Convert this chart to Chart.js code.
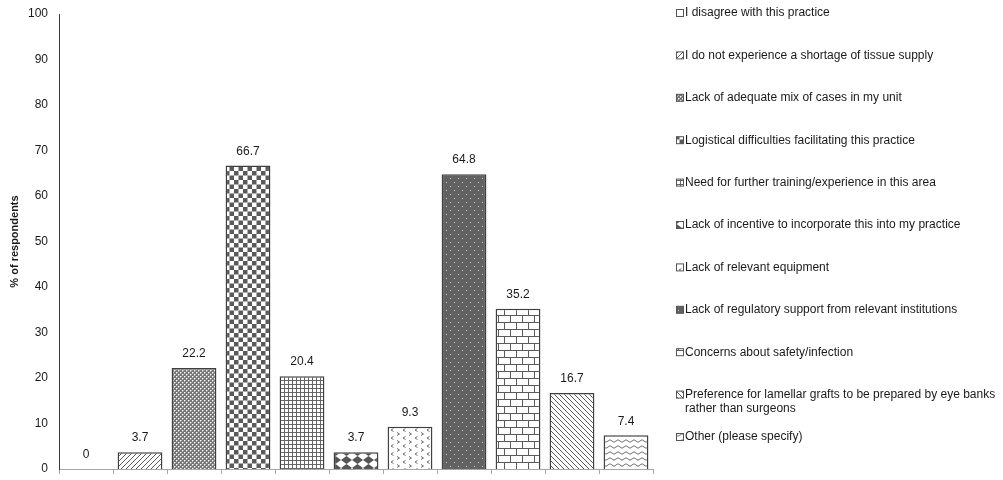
<!DOCTYPE html>
<html>
<head>
<meta charset="utf-8">
<script src="https://cdn.jsdelivr.net/npm/chart.js@4.4.0/dist/chart.umd.min.js"></script>
<style>
  html, body { margin: 0; padding: 0; background: #ffffff; }
  #wrap { width: 1003px; height: 480px; position: relative; }
</style>
</head>
<body>
<div id="wrap"><canvas id="c"></canvas></div>
<script>
// ---- data ----
const categories = [
  "I disagree with this practice",
  "I do not experience a shortage of tissue supply",
  "Lack of adequate mix of cases in my unit",
  "Logistical difficulties facilitating this practice",
  "Need for further training/experience in this area",
  "Lack of incentive to incorporate this into my practice",
  "Lack of relevant equipment",
  "Lack of regulatory support from relevant institutions",
  "Concerns about safety/infection",
  ["Preference for lamellar grafts to be prepared by eye banks", "rather than surgeons"],
  "Other (please specify)"
];
const values = [0, 3.7, 22.2, 66.7, 20.4, 3.7, 9.3, 64.8, 35.2, 16.7, 7.4];
const yAxisTitle = "% of respondents";
const yMin = 0, yMax = 100, yStep = 10;

// ---- patterns ----
function pat(w, h, bg, draw) {
  const c = document.createElement('canvas');
  c.width = w; c.height = h;
  const x = c.getContext('2d');
  x.fillStyle = bg; x.fillRect(0, 0, w, h);
  if (draw) draw(x, w, h);
  return x.createPattern(c, 'repeat');
}
const G = '#5a5a5a';
const patterns = [
  pat(4, 4, '#ffffff'),
  pat(5, 5, '#ffffff', (x) => { x.strokeStyle = G; x.lineWidth = 1;
    x.beginPath(); x.moveTo(-1, 6); x.lineTo(6, -1); x.moveTo(-1, 1); x.lineTo(1, -1); x.moveTo(4, 6); x.lineTo(6, 4); x.stroke(); }),
  pat(4, 4, '#777777', (x) => { x.fillStyle = '#ffffff'; x.fillRect(0, 0, 1, 1); x.fillRect(2, 2, 1, 1);
    x.fillStyle = '#b4b4b4'; x.fillRect(1, 0, 1, 1); x.fillRect(0, 1, 1, 1); x.fillRect(3, 2, 1, 1); x.fillRect(2, 3, 1, 1); }),
  pat(9, 9, '#ffffff', (x) => { x.fillStyle = G; x.fillRect(0, 0, 4.5, 4.5); x.fillRect(4.5, 4.5, 4.5, 4.5); }),
  pat(4, 4, '#ffffff', (x) => { x.fillStyle = '#666666'; x.fillRect(0, 0, 4, 1); x.fillRect(0, 0, 1, 4); }),
  pat(11, 8, '#ffffff', (x) => { x.fillStyle = '#555555'; x.beginPath();
    x.moveTo(5.5, 0); x.lineTo(11, 4); x.lineTo(5.5, 8); x.lineTo(0, 4); x.closePath(); x.fill(); }),
  pat(12, 8, '#ffffff', (x) => { x.strokeStyle = '#6e6e6e'; x.lineWidth = 1; x.beginPath();
    x.moveTo(1, 0.5); x.lineTo(3.5, 2); x.lineTo(1, 3.5);
    x.moveTo(9.5, 4.5); x.lineTo(7, 6); x.lineTo(9.5, 7.5); x.stroke(); }),
  pat(8, 8, '#626262', (x) => { x.fillStyle = '#c8c8c8'; x.fillRect(2, 2, 1, 1); x.fillRect(6, 6, 1, 1); }),
  pat(12, 14, '#ffffff', (x) => { x.fillStyle = G; x.fillRect(0, 0, 12, 1); x.fillRect(0, 7, 12, 1);
    x.fillRect(0, 0, 1, 7); x.fillRect(6, 7, 1, 7); }),
  pat(5, 5, '#ffffff', (x) => { x.strokeStyle = G; x.lineWidth = 1;
    x.beginPath(); x.moveTo(-1, -1); x.lineTo(6, 6); x.moveTo(4, -1); x.lineTo(6, 1); x.moveTo(-1, 4); x.lineTo(1, 6); x.stroke(); }),
  pat(8, 6, '#ffffff', (x) => { x.strokeStyle = '#707070'; x.lineWidth = 1; x.beginPath();
    x.moveTo(0, 3); x.quadraticCurveTo(2, 0.5, 4, 3); x.quadraticCurveTo(6, 5.5, 8, 3); x.stroke(); })
];

const FONT = "'Liberation Sans', Arial, sans-serif";

const valueLabels = {
  id: 'valueLabels',
  afterDatasetsDraw(chart) {
    const ctx = chart.ctx;
    const meta = chart.getDatasetMeta(0);
    ctx.save();
    ctx.font = '12px ' + FONT;
    ctx.fillStyle = '#1a1a1a';
    ctx.textAlign = 'center';
    ctx.textBaseline = 'middle';
    meta.data.forEach((bar, i) => {
      ctx.fillText(String(values[i]), bar.x, bar.y - 14);
    });
    ctx.restore();
  }
};

const sideLegend = {
  id: 'sideLegend',
  afterDraw(chart) {
    const ctx = chart.ctx;
    const iconX = 676, textX = 685, y0 = 13, step = 42.4, lineH = 14;
    ctx.save();
    ctx.font = '12px ' + FONT;
    ctx.textAlign = 'left';
    ctx.textBaseline = 'middle';
    categories.forEach((lab, i) => {
      const y = y0 + i * step;
      ctx.fillStyle = patterns[i];
      ctx.fillRect(iconX, y - 3.5, 7, 7);
      ctx.strokeStyle = '#555555';
      ctx.lineWidth = 1;
      ctx.strokeRect(iconX + 0.5, y - 3.5, 7, 7);
      ctx.fillStyle = '#1a1a1a';
      const lines = Array.isArray(lab) ? lab : [lab];
      lines.forEach((t, k) => ctx.fillText(t, textX, y + k * lineH));
    });
    ctx.restore();
  }
};

new Chart(document.getElementById('c'), {
  type: 'bar',
  data: {
    labels: categories,
    datasets: [{
      data: values,
      backgroundColor: patterns,
      borderColor: '#404040',
      borderWidth: 1.5,
      barPercentage: 0.83,
      categoryPercentage: 1.0
    }]
  },
  options: {
    responsive: true,
    maintainAspectRatio: false,
    animation: false,
    layout: { padding: { left: 0, right: 350, top: 14, bottom: 0 } },
    plugins: { legend: { display: false }, tooltip: { enabled: false } },
    scales: {
      x: {
        ticks: { display: false },
        grid: { display: true, drawOnChartArea: false, drawTicks: true, tickLength: 5, color: '#a6a6a6', offset: true },
        border: { display: true, color: '#a6a6a6', width: 1 },
        afterFit: (s) => { s.height = 11; s.paddingLeft = 0; s.paddingRight = 0; }
      },
      y: {
        min: yMin, max: yMax,
        ticks: { stepSize: yStep, padding: 11, color: '#1a1a1a', font: { family: FONT, size: 12 } },
        grid: { display: false, drawTicks: false, tickLength: 0 },
        border: { display: true, color: '#3a3a3a', width: 1 },
        title: { display: true, text: yAxisTitle, color: '#1a1a1a', font: { family: FONT, size: 11, weight: 'bold' }, padding: { top: 8, bottom: 4 } },
        afterFit: (s) => { s.width = 59; s.paddingTop = 0; s.paddingBottom = 0; }
      }
    }
  },
  plugins: [valueLabels, sideLegend]
});
</script>
</body>
</html>
